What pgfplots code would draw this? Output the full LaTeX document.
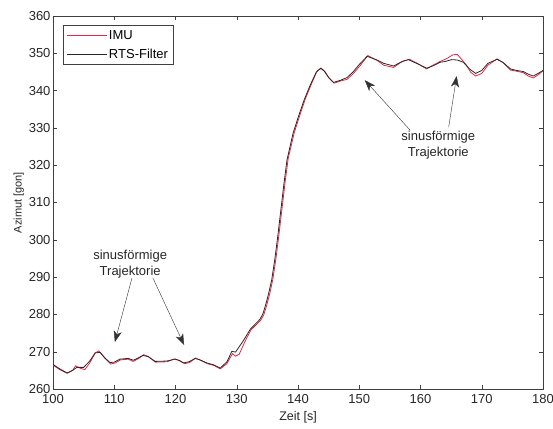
\documentclass[border=0pt]{standalone}
\usepackage{pgfplots}
\pgfplotsset{compat=1.18}
\usepackage{fontspec}
\setmainfont{Liberation Sans}
\usetikzlibrary{arrows.meta}
\definecolor{imured}{RGB}{230,40,70}
\definecolor{rtsgray}{RGB}{40,40,40}
\pgfplotstableread{
t v
100 266.4
101 265.3
102.3 264.2
103.2 265
103.7 266.2
104.4 265.6
105.2 265.2
106 267
106.9 269.7
107.5 270.2
108.5 268.2
109.4 266.7
110.2 267
111 267.8
112.3 268
113.1 267.4
114 268.2
114.8 269.2
115.6 268.7
116.7 267.2
118.6 267.3
119.9 268.1
120.6 267.6
121.5 266.8
122.3 267.1
123.3 268.3
124.1 267.7
125.2 266.8
126.3 266.3
127.3 265.4
128.4 266.8
129.3 269.5
129.8 268.8
130.4 269.3
131.3 272.6
132.3 275.8
133.9 278.4
134.4 279.8
134.9 282.5
135.4 285.6
135.9 289.5
136.4 295
136.9 301.5
137.4 308.5
137.9 315.5
138.4 321.8
139.4 328.8
140.3 333.4
141.2 337.8
142.2 341.8
143.1 345.2
143.8 346
144.4 345.1
145.1 343.3
145.9 342
147 342.6
148 343
149 344.5
150.2 346.8
151.4 349.4
153 348
154 346.8
155.6 346.2
157 347.8
158.2 348.4
159.6 347.2
161 345.8
162 346.8
163.2 347.8
164.3 348.6
165.3 349.6
166 349.7
166.6 348.6
167.5 346.8
168.2 344.9
169 343.9
170 344.6
171 346.8
172.5 348.5
173.5 347.5
174.7 345.5
175.7 345.2
176.8 344.8
177.6 343.9
178.4 343.4
179.2 344.2
180 345.3
}\imu
\pgfplotstableread{
t v
100 266.6
101 265.5
102.3 264.3
103.2 265
103.9 265.8
105 265.8
106 267.5
106.9 269.7
107.7 269.8
108.5 268.3
109.3 267.1
110 267.2
110.9 268
112.3 268.2
113.1 267.7
114 268.4
114.7 269
115.5 268.7
116.7 267.4
118.6 267.5
119.9 268
120.6 267.7
121.3 267
122.2 267.3
123.2 268.2
124 267.8
125.1 267
126.2 266.5
127.3 265.6
128.4 267.3
129.2 270.1
129.8 269.9
131.1 273
132.2 276
133.8 278.7
134.3 280.3
134.8 283
135.2 285.6
135.7 289.2
136.2 294.6
136.7 301
137.2 308
137.7 315
138.2 321.4
139.2 328.6
140.1 333.2
141 337.5
142 341.5
143 345
143.7 346
144.3 345.2
145 343.5
145.8 342.2
147 342.8
148 343.5
149 345
150 347
151.3 349.2
152.9 348.2
154 347.3
155.6 346.6
157 347.8
158 348.3
159.5 347.2
161 346
162 346.6
163.2 347.6
164 347.8
165.1 348.3
166 348.2
167 347.6
168 345.8
169 344.6
170 345.4
171 347.3
172.5 348.4
173.5 347.5
174.7 345.8
175.7 345.4
176.8 345.1
177.6 344.4
178.4 343.9
179.2 344.6
180 345.4
}\rts
\begin{document}
\begin{tikzpicture}
\begin{axis}[
  scale only axis,
  width=490pt, height=373pt,
  xmin=100, xmax=180, ymin=260, ymax=360,
  xtick={100,110,...,180},
  ytick={260,270,...,360},
  tick align=inside,
  major tick length=4pt,
  axis line style={draw=black!75},
  tick style={draw=black!75},
  /pgf/number format/assume math mode=true,
  /pgf/number format/set thousands separator={},
  tick label style={font=\fontsize{13}{15}\selectfont, text=black!85},
  xticklabel style={yshift=-2pt},
  yticklabel style={xshift=1pt},
  xlabel={Zeit [s]},
  ylabel={Azimut [gon]},
  xlabel style={font=\fontsize{12.5}{14}\selectfont, text=black!85, yshift=-1pt},
  ylabel style={font=\fontsize{11}{13}\selectfont, text=black!85, yshift=-2pt},
  legend style={at={(0.0204,0.976)}, anchor=north west, draw=black!75,
    font=\fontsize{13}{15}\selectfont, row sep=4pt, inner sep=3pt},
  legend cell align=left,
  legend image code/.code={\draw[#1] (0pt,0pt) -- (40pt,0pt);},
  clip=true,
]
\addplot[imured, line width=0.8pt] table[x=t, y=v] {\imu};
\addlegendentry{IMU}
\addplot[rtsgray, line width=0.8pt] table[x=t, y=v] {\rts};
\addlegendentry{RTS-Filter}
\node[align=center, font=\fontsize{13}{16}\selectfont, text=black!85] at (axis cs:112.6,293.6) {sinusförmige\\Trajektorie};
\node[align=center, font=\fontsize{13}{16}\selectfont, text=black!85] at (axis cs:162.9,325.5) {sinusförmige\\Trajektorie};
\draw[black!80, -{Stealth[length=11pt,width=8pt,inset=3pt]}] (axis cs:112.9,289.8) -- (axis cs:110.1,272.6);
\draw[black!80, -{Stealth[length=11pt,width=8pt,inset=3pt]}] (axis cs:116.3,289.8) -- (axis cs:121.4,271.8);
\draw[black!80, -{Stealth[length=11pt,width=8pt,inset=3pt]}] (axis cs:158.3,329.4) -- (axis cs:150.9,342.8);
\draw[black!80, -{Stealth[length=11pt,width=8pt,inset=3pt]}] (axis cs:164.6,330.2) -- (axis cs:165.9,343.9);
\end{axis}
\pgfresetboundingbox
\path ([shift={(-53pt,-39pt)}]current axis.south west) rectangle ([shift={(10pt,16pt)}]current axis.north east);
\end{tikzpicture}
\end{document}
